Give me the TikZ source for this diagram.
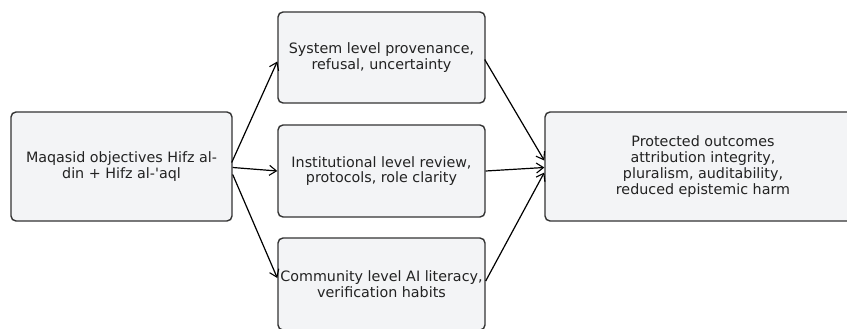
\documentclass[tikz,border=0pt]{standalone}
\usepackage{fontspec}
\setmainfont{DejaVu Sans}
\usetikzlibrary{arrows.meta,calc}
\definecolor{boxfill}{HTML}{F3F4F6}
\definecolor{boxline}{HTML}{333333}
\definecolor{txt}{HTML}{222222}
\tikzset{
  x=1pt,y=-1pt,
  box/.style={draw=boxline,fill=boxfill,line width=1.4pt,rounded corners=5pt,
    align=center,text=txt,inner sep=0pt,
    font=\fontsize{14.3pt}{15.8pt}\selectfont},
  conn/.style={draw=black,line width=1.2pt,-{Straight Barb[length=7pt,width=10pt,line width=1.1pt]}}
}
\begin{document}
\begin{tikzpicture}
\useasboundingbox (0,0) rectangle (847,329);
\clip (0,0) rectangle (847,329);
\node[box,minimum width=221pt,minimum height=109pt] (L) at (121.5,166.5) {Maqasid objectives Hifz al-\\din + Hifz al-\textquotesingle aql};
\node[box,minimum width=207pt,minimum height=91pt] (A) at (381.5,57.5) {System level provenance,\\refusal, uncertainty};
\node[box,minimum width=207pt,minimum height=92pt] (B) at (381.5,171) {Institutional level review,\\protocols, role clarity};
\node[box,minimum width=207pt,minimum height=92pt] (C) at (381.5,284) {Community level AI literacy,\\verification habits};
\node[box,minimum width=316pt,minimum height=109pt] (R) at (703,166.5) {Protected outcomes\\attribution integrity,\\pluralism, auditability,\\reduced epistemic harm};
\coordinate (l1) at ($(L.east)+(-1,-4)$);
\coordinate (l2) at ($(L.east)+(0,1)$);
\coordinate (l3) at ($(L.east)+(0,8)$);
\coordinate (a1) at ($(A.west)+(0,4)$);
\coordinate (c1) at ($(C.west)+(0,-6)$);
\coordinate (a2) at ($(A.east)+(-1,2)$);
\coordinate (c2) at ($(C.east)+(0,-3)$);
\coordinate (r1) at ($(R.west)+(0,-6)$);
\coordinate (r2) at ($(R.west)+(0,1)$);
\coordinate (r3) at ($(R.west)+(0,6)$);
\draw[conn] (l1) -- (a1);
\draw[conn] (l2) -- (B.west);
\draw[conn] (l3) -- (c1);
\draw[conn] (a2) -- (r1);
\draw[conn] (B.east) -- (r2);
\draw[conn] (c2) -- (r3);
\end{tikzpicture}
\end{document}
